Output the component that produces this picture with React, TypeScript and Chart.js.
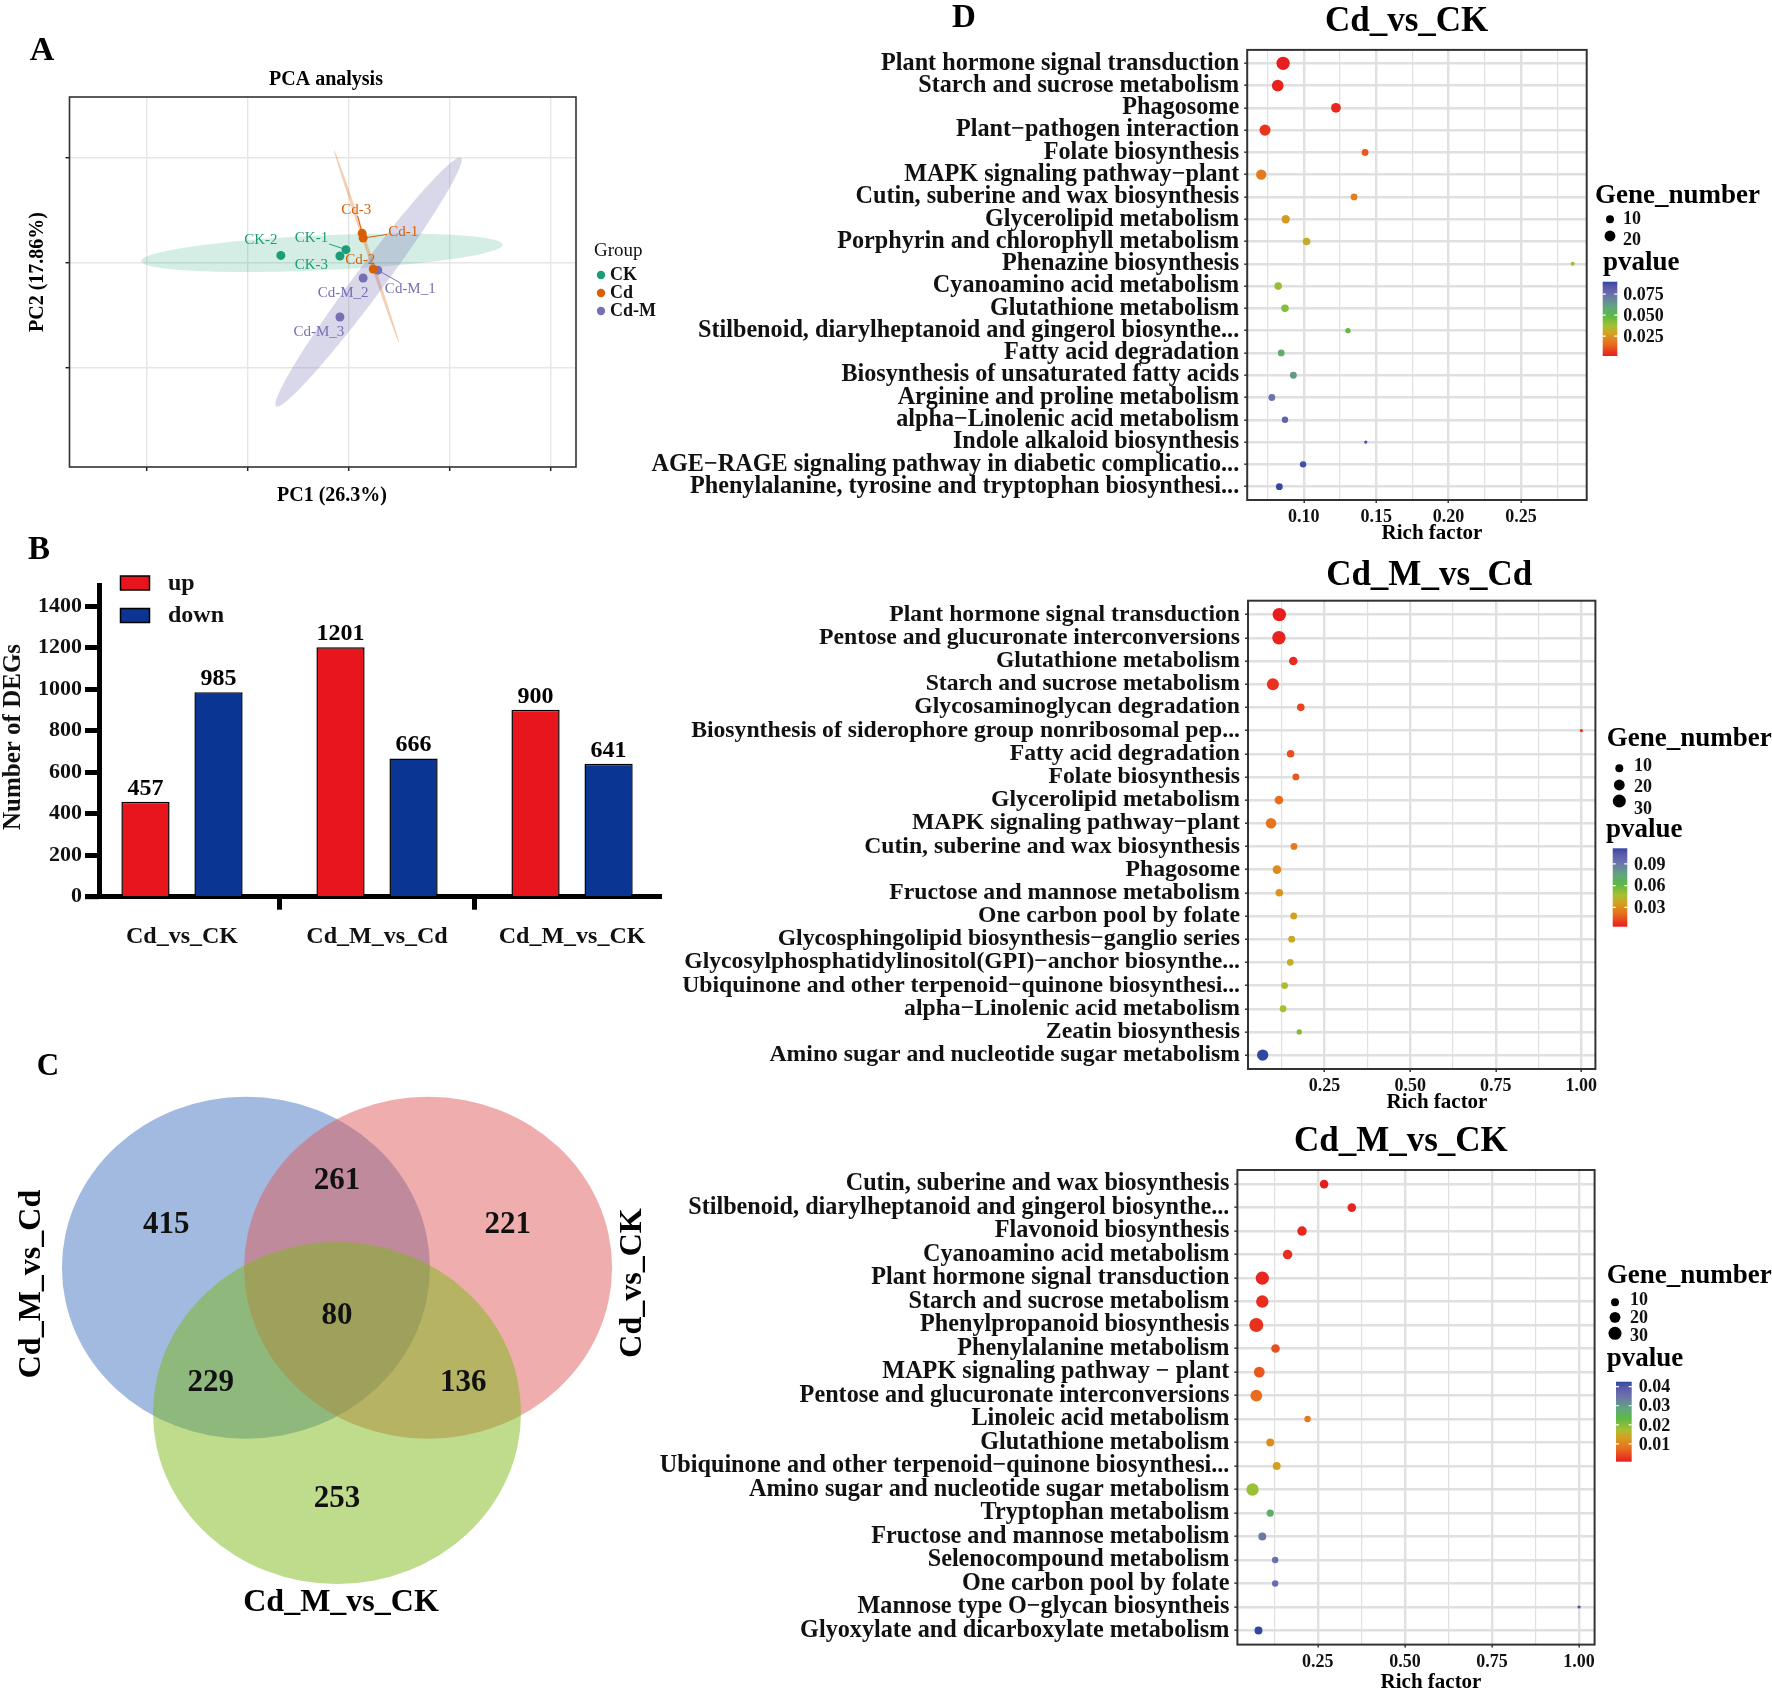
import React, { useEffect, useRef } from 'react';
import { Chart, registerables } from 'chart.js';

Chart.register(...registerables);

const SERIF = '"Liberation Serif", "Times New Roman", Times, serif';

// ---------------- A: PCA ----------------
const PCA_GROUPS = ['CK', 'Cd', 'Cd-M'];
const PCA_SAMPLES = [
  ['CK-1', 'CK-2', 'CK-3'],
  ['Cd-1', 'Cd-2', 'Cd-3'],
  ['Cd-M_1', 'Cd-M_2', 'Cd-M_3'],
];
const PCA_PC1 = [
  [-0.6, -13.5, -1.8],
  [2.8, 4.8, 2.6],
  [5.7, 2.8, -1.8],
];
const PCA_PC2 = [
  [2.5, 1.4, 1.3],
  [4.7, -1.2, 5.6],
  [-1.4, -2.9, -10.3],
];
// confidence ellipses: centre and semi-axis vectors, in PC units
const PCA_ELLIPSE_CENTER = [[-5.35, 1.9], [3.47, 3.09], [3.86, -3.66]];
const PCA_ELLIPSE_MAJOR = [[35.8, 1.56], [6.44, -18.34], [18.3, 23.6]];
const PCA_ELLIPSE_MINOR = [[0.15, -3.3], [-0.33, -0.11], [2.3, -1.7]];
const PCA_X_TICKS = [-40, -20, 0, 20, 40];
const PCA_Y_TICKS = [-20, 0, 20];

// ---------------- B: DEG counts ----------------
const DEG_COMPARISONS = ['Cd_vs_CK', 'Cd_M_vs_Cd', 'Cd_M_vs_CK'];
const DEG_UP = [457, 1201, 900];
const DEG_DOWN = [985, 666, 641];
const DEG_Y_TICKS = [0, 200, 400, 600, 800, 1000, 1200, 1400];

// ---------------- C: Venn ----------------
const VENN_SETS = ['Cd_M_vs_Cd', 'Cd_vs_CK', 'Cd_M_vs_CK'];
const VENN_CX = [-0.495, 0.495, 0];
const VENN_CY = [0.42, 0.42, -0.43];
const VENN_R = [1, 1, 1];
const VENN_REGIONS = [[0], [1], [2], [0, 1], [0, 2], [1, 2], [0, 1, 2]];
const VENN_COUNTS = [415, 221, 253, 261, 229, 136, 80];

// ---------------- D: KEGG enrichment ----------------
const D1_PATHWAYS = [
  'Plant hormone signal transduction',
  'Starch and sucrose metabolism',
  'Phagosome',
  'Plant\u2212pathogen interaction',
  'Folate biosynthesis',
  'MAPK signaling pathway\u2212plant',
  'Cutin, suberine and wax biosynthesis',
  'Glycerolipid metabolism',
  'Porphyrin and chlorophyll metabolism',
  'Phenazine biosynthesis',
  'Cyanoamino acid metabolism',
  'Glutathione metabolism',
  'Stilbenoid, diarylheptanoid and gingerol biosynthe...',
  'Fatty acid degradation',
  'Biosynthesis of unsaturated fatty acids',
  'Arginine and proline metabolism',
  'alpha\u2212Linolenic acid metabolism',
  'Indole alkaloid biosynthesis',
  'AGE\u2212RAGE signaling pathway in diabetic complicatio...',
  'Phenylalanine, tyrosine and tryptophan biosynthesi...',
];
const D1_RICH = [0.0857, 0.082, 0.1222, 0.0732, 0.1423, 0.0706, 0.1347, 0.0875, 0.1019, 0.2857, 0.0823, 0.087, 0.1305, 0.0844, 0.0928, 0.0779, 0.087, 0.1428, 0.0995, 0.0831];
const D1_GENES = [31, 24, 16, 21, 7, 18, 7, 11, 9, 2, 9, 9, 4, 7, 7, 7, 6, 1, 6, 7];
const D1_PVALUE = [0.0012, 0.0021, 0.003, 0.0056, 0.0118, 0.0189, 0.0198, 0.026, 0.0313, 0.034, 0.0393, 0.042, 0.0473, 0.057, 0.0632, 0.0739, 0.0792, 0.0854, 0.0871, 0.0898];
const D1_X_MAJOR = [0.1, 0.15, 0.2, 0.25];
const D1_X_MINOR = [0.075, 0.125, 0.175, 0.225, 0.275];
const D1_SIZE_KEYS = [10, 20];
const D1_P_TICKS = [0.025, 0.05, 0.075];

const D2_PATHWAYS = [
  'Plant hormone signal transduction',
  'Pentose and glucuronate interconversions',
  'Glutathione metabolism',
  'Starch and sucrose metabolism',
  'Glycosaminoglycan degradation',
  'Biosynthesis of siderophore group nonribosomal pep...',
  'Fatty acid degradation',
  'Folate biosynthesis',
  'Glycerolipid metabolism',
  'MAPK signaling pathway\u2212plant',
  'Cutin, suberine and wax biosynthesis',
  'Phagosome',
  'Fructose and mannose metabolism',
  'One carbon pool by folate',
  'Glycosphingolipid biosynthesis\u2212ganglio series',
  'Glycosylphosphatidylinositol(GPI)\u2212anchor biosynthe...',
  'Ubiquinone and other terpenoid\u2212quinone biosynthesi...',
  'alpha\u2212Linolenic acid metabolism',
  'Zeatin biosynthesis',
  'Amino sugar and nucleotide sugar metabolism',
];
const D2_RICH = [0.1177, 0.1166, 0.1586, 0.099, 0.1805, 1.0, 0.1507, 0.1662, 0.1166, 0.0935, 0.1606, 0.111, 0.1177, 0.1598, 0.154, 0.1498, 0.1332, 0.1288, 0.176, 0.0692];
const D2_GENES = [32, 32, 12, 25, 9, 1, 9, 7, 12, 19, 7, 12, 9, 7, 7, 7, 7, 7, 4, 22];
const D2_PVALUE = [0.0031, 0.0042, 0.0064, 0.0074, 0.0118, 0.0085, 0.014, 0.016, 0.0205, 0.0227, 0.0248, 0.0292, 0.0324, 0.0357, 0.039, 0.0411, 0.0444, 0.0455, 0.0541, 0.1117];
const D2_X_MAJOR = [0.25, 0.5, 0.75, 1.0];
const D2_X_MINOR = [0.125, 0.375, 0.625, 0.875];
const D2_SIZE_KEYS = [10, 20, 30];
const D2_P_TICKS = [0.03, 0.06, 0.09];

const D3_PATHWAYS = [
  'Cutin, suberine and wax biosynthesis',
  'Stilbenoid, diarylheptanoid and gingerol biosynthe...',
  'Flavonoid biosynthesis',
  'Cyanoamino acid metabolism',
  'Plant hormone signal transduction',
  'Starch and sucrose metabolism',
  'Phenylpropanoid biosynthesis',
  'Phenylalanine metabolism',
  'MAPK signaling pathway \u2212 plant',
  'Pentose and glucuronate interconversions',
  'Linoleic acid metabolism',
  'Glutathione metabolism',
  'Ubiquinone and other terpenoid\u2212quinone biosynthesi...',
  'Amino sugar and nucleotide sugar metabolism',
  'Tryptophan metabolism',
  'Fructose and mannose metabolism',
  'Selenocompound metabolism',
  'One carbon pool by folate',
  'Mannose type O\u2212glycan biosyntheis',
  'Glyoxylate and dicarboxylate metabolism',
];
const D3_RICH = [0.268, 0.3476, 0.2047, 0.1633, 0.0907, 0.0907, 0.0735, 0.1286, 0.082, 0.0735, 0.2207, 0.1134, 0.132, 0.0626, 0.1134, 0.0907, 0.1277, 0.1277, 1.0, 0.0797];
const D3_GENES = [12, 12, 15, 15, 31, 27, 35, 12, 20, 24, 6, 10, 10, 27, 8, 10, 6, 6, 1, 10];
const D3_PVALUE = [0.0007, 0.0011, 0.0015, 0.002, 0.0015, 0.002, 0.0024, 0.0049, 0.0057, 0.0074, 0.009, 0.0112, 0.0133, 0.0183, 0.0267, 0.0342, 0.0355, 0.0359, 0.0413, 0.0426];
const D3_X_MAJOR = [0.25, 0.5, 0.75, 1.0];
const D3_X_MINOR = [0.125, 0.375, 0.625, 0.875];
const D3_SIZE_KEYS = [10, 20, 30];
const D3_P_TICKS = [0.01, 0.02, 0.03, 0.04];

// ---------------- styles ----------------
const PCA_COLORS = ['#1b9e77', '#d95f02', '#7570b3'];
const PCA_ELLIPSE_FILL = ['rgba(27,158,119,0.19)', 'rgba(217,95,2,0.3)', 'rgba(117,112,179,0.28)'];
const PCA_LABEL_OFFSET = [
  [[-34.5, -11.6], [-20, -15], [-28.5, 9]],
  [[40, -6], [-13, -9], [-6, -23.4]],
  [[32.5, 18.5], [-20, 15.5], [-21, 15]],
];
const PCA_LEADER = [
  [true, false, false],
  [true, false, true],
  [true, false, false],
];
const VENN_FILL = ['rgba(69,115,193,0.5)', 'rgba(223,91,91,0.5)', 'rgba(125,185,25,0.5)'];
const P_STOPS = [
  [0.0, [232, 30, 30]],
  [0.17, [232, 112, 30]],
  [0.3, [212, 160, 32]],
  [0.4, [168, 192, 48]],
  [0.54, [92, 184, 70]],
  [0.66, [98, 166, 124]],
  [0.82, [108, 114, 172]],
  [0.93, [88, 88, 170]],
  [1.0, [48, 72, 160]],
];

function colorAt(t: number) {
  const v = Math.max(0, Math.min(1, t));
  for (let i = 1; i < P_STOPS.length; i++) {
    const [t1, c1]: any = P_STOPS[i];
    const [t0, c0]: any = P_STOPS[i - 1];
    if (v <= t1) {
      const f = (v - t0) / (t1 - t0);
      const c = c0.map((a: number, k: number) => Math.round(a + (c1[k] - a) * f));
      return `rgb(${c[0]},${c[1]},${c[2]})`;
    }
  }
  const c: any = P_STOPS[P_STOPS.length - 1][1];
  return `rgb(${c[0]},${c[1]},${c[2]})`;
}
const sizeOf = (n: number) => 0.5 + 1.1 * Math.sqrt(n);

function txt(ctx: any, s: string, x: number, y: number, font: string, color = '#000', align = 'center', baseline = 'middle', rot = 0) {
  ctx.save();
  ctx.translate(x, y);
  if (rot) ctx.rotate(rot);
  ctx.font = font;
  ctx.fillStyle = color;
  ctx.textAlign = align;
  ctx.textBaseline = baseline;
  ctx.fillText(s, 0, 0);
  ctx.restore();
}
const bold = (px: number) => `bold ${px}px ${SERIF}`;
const reg = (px: number) => `${px}px ${SERIF}`;

const BASE = {
  responsive: false,
  animation: false,
  devicePixelRatio: 1,
  events: [],
  plugins: { legend: { display: false }, tooltip: { enabled: false }, title: { display: false } },
};

// ---------------- A config ----------------
function makePCA(W: number, H: number) {
  const a = { left: 69.5, top: 97, right: 576, bottom: 467 };
  const plugin = {
    id: 'pcaDecor',
    beforeDatasetsDraw(chart: any) {
      const { ctx, chartArea: ca } = chart;
      const xs = chart.scales.x, ys = chart.scales.y;
      ctx.save();
      ctx.beginPath();
      ctx.rect(ca.left, ca.top, ca.right - ca.left, ca.bottom - ca.top);
      ctx.clip();
      PCA_GROUPS.forEach((_g, gi) => {
        const [cx, cy] = PCA_ELLIPSE_CENTER[gi];
        const [ax, ay] = PCA_ELLIPSE_MAJOR[gi];
        const [bx, by] = PCA_ELLIPSE_MINOR[gi];
        const C = [xs.getPixelForValue(cx), ys.getPixelForValue(cy)];
        const A = [xs.getPixelForValue(cx + ax) - C[0], ys.getPixelForValue(cy + ay) - C[1]];
        const B = [xs.getPixelForValue(cx + bx) - C[0], ys.getPixelForValue(cy + by) - C[1]];
        ctx.beginPath();
        for (let k = 0; k <= 180; k++) {
          const t = (k / 180) * Math.PI * 2;
          const px = C[0] + A[0] * Math.cos(t) + B[0] * Math.sin(t);
          const py = C[1] + A[1] * Math.cos(t) + B[1] * Math.sin(t);
          if (k) ctx.lineTo(px, py); else ctx.moveTo(px, py);
        }
        ctx.closePath();
        ctx.fillStyle = PCA_ELLIPSE_FILL[gi];
        ctx.fill();
      });
      ctx.restore();
    },
    afterDatasetsDraw(chart: any) {
      const ctx = chart.ctx;
      PCA_GROUPS.forEach((_g, gi) => {
        const meta = chart.getDatasetMeta(gi);
        meta.data.forEach((el: any, i: number) => {
          const label = PCA_SAMPLES[gi][i];
          const [dx, dy] = PCA_LABEL_OFFSET[gi][i];
          const lx = el.x + dx, ly = el.y + dy;
          ctx.save();
          ctx.font = reg(15);
          const w = ctx.measureText(label).width;
          if (PCA_LEADER[gi][i]) {
            const hw = w / 2 + 1, hh = 6;
            const t = Math.min(hw / Math.max(Math.abs(dx), 0.01), hh / Math.max(Math.abs(dy), 0.01));
            const ex = lx - dx * t, ey = ly - dy * t;
            ctx.strokeStyle = PCA_COLORS[gi];
            ctx.lineWidth = 1;
            ctx.beginPath();
            ctx.moveTo(el.x, el.y);
            ctx.lineTo(ex, ey);
            ctx.stroke();
          }
          ctx.restore();
          txt(ctx, label, lx, ly, reg(15), PCA_COLORS[gi]);
        });
      });
    },
    afterDraw(chart: any) {
      const { ctx, chartArea: ca } = chart;
      ctx.save();
      ctx.strokeStyle = '#333';
      ctx.lineWidth = 1.6;
      ctx.strokeRect(ca.left, ca.top, ca.right - ca.left, ca.bottom - ca.top);
      ctx.restore();
      txt(ctx, 'A', 42, 51, bold(34));
      txt(ctx, 'PCA analysis', 326, 80, bold(20));
      txt(ctx, 'PC1 (26.3%)', 332, 496, bold(20));
      txt(ctx, 'PC2 (17.86%)', 38, 272, bold(20), '#000', 'center', 'middle', -Math.PI / 2);
      txt(ctx, 'Group', 594, 251, reg(19), '#111', 'left');
      const ys = [275, 293, 311];
      PCA_GROUPS.forEach((g, gi) => {
        ctx.save();
        ctx.fillStyle = PCA_COLORS[gi];
        ctx.beginPath();
        ctx.arc(601, ys[gi], 4.2, 0, Math.PI * 2);
        ctx.fill();
        ctx.restore();
        txt(ctx, g, 610, ys[gi], bold(18), '#111', 'left');
      });
    },
  };
  const grid = { color: '#e6e6e6', lineWidth: 1.4, tickLength: 4, tickColor: '#222', tickWidth: 1.5 };
  return {
    type: 'scatter',
    data: {
      datasets: PCA_GROUPS.map((g, gi) => ({
        label: g,
        data: PCA_PC1[gi].map((x, i) => ({ x, y: PCA_PC2[gi][i] })),
        backgroundColor: PCA_COLORS[gi],
        pointRadius: 4.5,
        borderWidth: 0,
      })),
    },
    options: {
      ...BASE,
      layout: { padding: { left: 0, top: a.top, right: W - a.right, bottom: 0 } },
      scales: {
        x: {
          type: 'linear', min: -55.35, max: 44.95,
          afterBuildTicks: (s: any) => { s.ticks = PCA_X_TICKS.map((value) => ({ value })); },
          afterFit: (s: any) => { s.height = H - a.bottom; },
          ticks: { display: false }, grid, border: { display: false },
        },
        y: {
          type: 'linear', min: -38.8, max: 31.5,
          afterBuildTicks: (s: any) => { s.ticks = PCA_Y_TICKS.map((value) => ({ value })); },
          afterFit: (s: any) => { s.width = a.left; },
          ticks: { display: false }, grid, border: { display: false },
        },
      },
    },
    plugins: [plugin],
  };
}

// ---------------- B config ----------------
function makeBars(W: number, H: number) {
  const a = { left: 99, top: 65.3, right: 661, bottom: 376.7 };
  const COLORS = ['#e8161c', '#0a3592'];
  const plugin = {
    id: 'barDecor',
    afterDatasetsDraw(chart: any) {
      const ctx = chart.ctx;
      [0, 1].forEach((di) => {
        const meta = chart.getDatasetMeta(di);
        const vals = di === 0 ? DEG_UP : DEG_DOWN;
        meta.data.forEach((el: any, i: number) => {
          txt(ctx, String(vals[i]), el.x, el.y - 7, bold(24), '#000', 'center', 'alphabetic');
        });
      });
    },
    afterDraw(chart: any) {
      const { ctx, chartArea: ca } = chart;
      ctx.save();
      ctx.strokeStyle = '#000';
      ctx.lineWidth = 5;
      ctx.beginPath();
      ctx.moveTo(ca.left - 14, ca.bottom);
      ctx.lineTo(ca.left, ca.bottom);
      ctx.stroke();
      // legend
      ['up', 'down'].forEach((lab, i) => {
        const y0 = i === 0 ? 56 : 88.5;
        ctx.fillStyle = COLORS[i];
        ctx.fillRect(120.5, y0, 29, 14);
        ctx.strokeStyle = '#000';
        ctx.lineWidth = 1.5;
        ctx.strokeRect(120.5, y0, 29, 14);
        txt(ctx, lab, 168, y0 + 7.5, bold(24), '#111', 'left');
      });
      ctx.restore();
      txt(ctx, 'B', 39, 30, bold(33));
      txt(ctx, 'Number of DEGs', 14, 217, bold(25), '#111', 'center', 'middle', -Math.PI / 2);
    },
  };
  const dsBase = { borderColor: '#000', borderWidth: 1.5, categoryPercentage: 0.749, barPercentage: 0.66 };
  return {
    type: 'bar',
    data: {
      datasets: [
        { label: 'up', data: DEG_UP.map((y, i) => ({ x: i, y })), backgroundColor: COLORS[0], ...dsBase },
        { label: 'down', data: DEG_DOWN.map((y, i) => ({ x: i, y })), backgroundColor: COLORS[1], ...dsBase },
      ],
    },
    options: {
      ...BASE,
      layout: { padding: { left: 0, top: a.top, right: W - a.right, bottom: 0 } },
      scales: {
        x: {
          type: 'linear', min: -0.4256, max: 2.456, offset: false,
          afterBuildTicks: (s: any) => { s.ticks = DEG_COMPARISONS.map((_c, i) => ({ value: i })); },
          afterFit: (s: any) => { s.height = H - a.bottom; },
          ticks: {
            autoSkip: false, maxRotation: 0, padding: 12.5, color: '#111',
            font: { family: SERIF, size: 24, weight: 'bold' },
            callback: (v: any) => DEG_COMPARISONS[Math.round(v)] ?? '',
          },
          grid: { drawOnChartArea: false, tickLength: 13, tickColor: '#000', tickWidth: 5 },
          border: { display: true, color: '#000', width: 5 },
        },
        y: {
          type: 'linear', min: 0, max: 1500,
          afterBuildTicks: (s: any) => { s.ticks = DEG_Y_TICKS.map((value) => ({ value })); },
          afterFit: (s: any) => { s.width = a.left; },
          ticks: {
            padding: 3, color: '#111', font: { family: SERIF, size: 22, weight: 'bold' },
            callback: (v: any) => String(v),
          },
          grid: { drawOnChartArea: false, tickLength: 14, tickColor: '#000', tickWidth: 5 },
          border: { display: true, color: '#000', width: 5 },
        },
      },
    },
    plugins: [plugin],
  };
}

// ---------------- C config ----------------
function vennLabelPos(region: number[]) {
  const gx = VENN_CX.reduce((s, v) => s + v, 0) / VENN_CX.length;
  const gy = VENN_CY.reduce((s, v) => s + v, 0) / VENN_CY.length;
  if (region.length === VENN_CX.length) return [gx, gy];
  const mx = region.reduce((s, k) => s + VENN_CX[k], 0) / region.length;
  const my = region.reduce((s, k) => s + VENN_CY[k], 0) / region.length;
  const dx = mx - gx, dy = my - gy;
  const len = Math.hypot(dx, dy) || 1;
  const dist = region.length === 1 ? 1.07 : 0.79;
  return [gx + (dx / len) * dist, gy + (dy / len) * dist];
}

function makeVenn(_W: number, _H: number) {
  const plugin = {
    id: 'vennDecor',
    beforeDatasetsDraw(chart: any) {
      const ctx = chart.ctx;
      const xs = chart.scales.x, ys = chart.scales.y;
      VENN_SETS.forEach((_s, i) => {
        const cx = xs.getPixelForValue(VENN_CX[i]);
        const cy = ys.getPixelForValue(VENN_CY[i]);
        const rx = xs.getPixelForValue(VENN_CX[i] + VENN_R[i]) - cx;
        const ry = cy - ys.getPixelForValue(VENN_CY[i] + VENN_R[i]);
        ctx.save();
        ctx.fillStyle = VENN_FILL[i];
        ctx.beginPath();
        ctx.ellipse(cx, cy, rx, ry, 0, 0, Math.PI * 2);
        ctx.fill();
        ctx.restore();
      });
    },
    afterDatasetsDraw(chart: any) {
      const ctx = chart.ctx;
      const meta = chart.getDatasetMeta(0);
      meta.data.forEach((el: any, i: number) => {
        txt(ctx, String(VENN_COUNTS[i]), el.x, el.y, bold(31), '#111');
      });
      txt(ctx, 'C', 48, 27, bold(31));
      txt(ctx, VENN_SETS[0], 31.6, 244, bold(32), '#000', 'center', 'middle', -Math.PI / 2);
      txt(ctx, VENN_SETS[1], 633, 243, bold(32), '#000', 'center', 'middle', -Math.PI / 2);
      txt(ctx, VENN_SETS[2], 341, 562.6, bold(32));
    },
  };
  return {
    type: 'scatter',
    data: {
      datasets: [{
        data: VENN_REGIONS.map((r) => { const [x, y] = vennLabelPos(r); return { x, y }; }),
        pointRadius: 0,
      }],
    },
    options: {
      ...BASE,
      layout: { padding: 0 },
      scales: {
        x: { type: 'linear', display: false, min: -1.8315, max: 1.7554 },
        y: { type: 'linear', display: false, min: -1.757, max: 1.7515 },
      },
    },
    plugins: [plugin],
  };
}

// ---------------- D config ----------------
const D_SPECS = [
  {
    top: 0, height: 550, labelSize: 24.2,
    title: 'Cd_vs_CK', labels: D1_PATHWAYS, rich: D1_RICH, genes: D1_GENES, pval: D1_PVALUE,
    xMin: 0.0609, xMax: 0.2954, major: D1_X_MAJOR, minor: D1_X_MINOR,
    sizeKeys: D1_SIZE_KEYS, pTicks: D1_P_TICKS, pDigits: 3,
    area: { l: 1247.2, t: 49.9, r: 1586.7, b: 500 },
    titlePos: [1406.6, 22.4], richPos: [1432, 533.8], letter: true,
    lg: { gn: [1595, 202.7], dotX: 1610, dotY: [219.3, 236], labX: 1623, labY: [219.3, 240], pv: [1603, 270], bar: [1602.7, 1617.3, 281.7, 356], barLabX: 1623.3 },
  },
  {
    top: 540, height: 575, labelSize: 23.7,
    title: 'Cd_M_vs_Cd', labels: D2_PATHWAYS, rich: D2_RICH, genes: D2_GENES, pval: D2_PVALUE,
    xMin: 0.0263, xMax: 1.041, major: D2_X_MAJOR, minor: D2_X_MINOR,
    sizeKeys: D2_SIZE_KEYS, pTicks: D2_P_TICKS, pDigits: 2,
    area: { l: 1248, t: 600.7, r: 1595.4, b: 1069 },
    titlePos: [1429.2, 575.7], richPos: [1437, 1102.8], letter: false,
    lg: { gn: [1606.7, 746], dotX: 1619.3, dotY: [768.3, 785, 801], labX: 1634, labY: [766, 787.7, 809], pv: [1606, 837.3], bar: [1612.7, 1627.3, 848.3, 926.7], barLabX: 1634 },
  },
  {
    top: 1100, height: 593, labelSize: 24.2,
    title: 'Cd_M_vs_CK', labels: D3_PATHWAYS, rich: D3_RICH, genes: D3_GENES, pval: D3_PVALUE,
    xMin: 0.0192, xMax: 1.0445, major: D3_X_MAJOR, minor: D3_X_MINOR,
    sizeKeys: D3_SIZE_KEYS, pTicks: D3_P_TICKS, pDigits: 2,
    area: { l: 1237.4, t: 1170, r: 1594.6, b: 1644.6 },
    titlePos: [1400.9, 1142.4], richPos: [1431, 1682.4], letter: false,
    lg: { gn: [1606.7, 1282.7], dotX: 1615, dotY: [1302.3, 1317.3, 1333.3], labX: 1630, labY: [1300, 1318.3, 1336.7], pv: [1606.7, 1366], bar: [1616, 1631.7, 1381.7, 1461.7], barLabX: 1638.8 },
  },
];
const D_LEFT = 560;

function makeEnrich(spec: any) {
  return (W: number, H: number) => {
    const ox = D_LEFT, oy = spec.top;
    const a = { left: spec.area.l - ox, top: spec.area.t - oy, right: spec.area.r - ox, bottom: spec.area.b - oy };
    const pMin = Math.min(...spec.pval), pMax = Math.max(...spec.pval);
    const isMajor = (v: number) => spec.major.some((m: number) => Math.abs(m - v) < 1e-9);
    const plugin = {
      id: 'enrichDecor',
      afterDraw(chart: any) {
        const { ctx, chartArea: ca } = chart;
        ctx.save();
        ctx.strokeStyle = '#333';
        ctx.lineWidth = 2;
        ctx.strokeRect(ca.left, ca.top, ca.right - ca.left, ca.bottom - ca.top);
        ctx.restore();
        txt(ctx, spec.title, spec.titlePos[0] - ox, spec.titlePos[1] - oy, bold(35));
        txt(ctx, 'Rich factor', spec.richPos[0] - ox, spec.richPos[1] - oy, bold(21));
        if (spec.letter) txt(ctx, 'D', 964 - ox, 18 - oy, bold(33));
        const lg = spec.lg;
        txt(ctx, 'Gene_number', lg.gn[0] - ox, lg.gn[1] - oy, bold(27), '#000', 'left', 'alphabetic');
        spec.sizeKeys.forEach((n: number, i: number) => {
          ctx.save();
          ctx.fillStyle = '#000';
          ctx.beginPath();
          ctx.arc(lg.dotX - ox, lg.dotY[i] - oy, sizeOf(n), 0, Math.PI * 2);
          ctx.fill();
          ctx.restore();
          txt(ctx, String(n), lg.labX - ox, lg.labY[i] - oy, bold(18), '#111', 'left');
        });
        txt(ctx, 'pvalue', lg.pv[0] - ox, lg.pv[1] - oy, bold(27), '#000', 'left', 'alphabetic');
        const [bl, br, bt, bb] = lg.bar.map((v: number, k: number) => v - (k < 2 ? ox : oy));
        const grad = ctx.createLinearGradient(0, bb, 0, bt);
        P_STOPS.forEach(([t]: any) => grad.addColorStop(t, colorAt(t)));
        ctx.save();
        ctx.fillStyle = grad;
        ctx.fillRect(bl, bt, br - bl, bb - bt);
        spec.pTicks.forEach((p: number) => {
          const y = bb - ((p - pMin) / (pMax - pMin)) * (bb - bt);
          ctx.strokeStyle = '#fff';
          ctx.lineWidth = 1.2;
          ctx.beginPath();
          ctx.moveTo(bl, y); ctx.lineTo(bl + 3, y);
          ctx.moveTo(br - 3, y); ctx.lineTo(br, y);
          ctx.stroke();
          txt(ctx, p.toFixed(spec.pDigits), lg.barLabX - ox, y + 1, bold(18), '#111', 'left');
        });
        ctx.restore();
      },
    };
    const gridColor = '#e0e0e0';
    return {
      type: 'bubble',
      data: {
        datasets: [{
          data: spec.rich.map((x: number, i: number) => ({ x, y: i + 1, r: sizeOf(spec.genes[i]) })),
          backgroundColor: spec.pval.map((p: number) => colorAt((p - pMin) / (pMax - pMin))),
          borderWidth: 0,
          hoverBorderWidth: 0,
        }],
      },
      options: {
        ...BASE,
        layout: { padding: { left: 0, top: a.top, right: W - a.right, bottom: 0 } },
        scales: {
          x: {
            type: 'linear', min: spec.xMin, max: spec.xMax,
            afterBuildTicks: (s: any) => {
              s.ticks = [...spec.major, ...spec.minor].sort((p, q) => p - q).map((value) => ({ value }));
            },
            afterFit: (s: any) => { s.height = H - a.bottom; },
            ticks: {
              autoSkip: false, maxRotation: 0, padding: 4, color: '#111',
              font: { family: SERIF, size: 18, weight: 'bold' },
              callback: (v: any) => (isMajor(Number(v)) ? Number(v).toFixed(2) : ''),
            },
            grid: {
              color: gridColor,
              lineWidth: (c: any) => (c.tick && isMajor(c.tick.value) ? 2.4 : 1.2),
              tickLength: 3,
              tickColor: (c: any) => (c.tick && isMajor(c.tick.value) ? '#333' : 'rgba(0,0,0,0)'),
              tickWidth: 1.5,
            },
            border: { display: false },
          },
          y: {
            type: 'linear', reverse: true, min: 0.4, max: spec.labels.length + 0.6,
            afterBuildTicks: (s: any) => { s.ticks = spec.labels.map((_l: string, i: number) => ({ value: i + 1 })); },
            afterFit: (s: any) => { s.width = a.left; },
            ticks: {
              autoSkip: false, padding: 5, color: '#111',
              font: { family: SERIF, size: spec.labelSize, weight: 'bold' },
              callback: (v: any) => spec.labels[Math.round(Number(v)) - 1] ?? '',
            },
            grid: { color: gridColor, lineWidth: 2.4, tickLength: 3, tickColor: '#333', tickWidth: 1.5 },
            border: { display: false },
          },
        },
      },
      plugins: [plugin],
    };
  };
}

function ChartBox({ x, y, w, h, make }: any) {
  const ref = useRef<HTMLCanvasElement>(null);
  useEffect(() => {
    const chart = new Chart(ref.current as HTMLCanvasElement, make(w, h) as any);
    return () => chart.destroy();
  }, []);
  return (
    <canvas
      ref={ref}
      width={w}
      height={h}
      style={{ position: 'absolute', left: x, top: y, width: w, height: h }}
    />
  );
}

export default function App() {
  return (
    <div style={{ position: 'absolute', left: 0, top: 0, width: 1772, height: 1693, background: '#fff', overflow: 'hidden' }}>
      <ChartBox x={0} y={0} w={660} h={520} make={makePCA} />
      <ChartBox x={0} y={520} w={690} h={445} make={makeBars} />
      <ChartBox x={0} y={1040} w={660} h={600} make={makeVenn} />
      {D_SPECS.map((s, i) => (
        <ChartBox key={i} x={D_LEFT} y={s.top} w={1772 - D_LEFT} h={s.height} make={makeEnrich(s)} />
      ))}
    </div>
  );
}
